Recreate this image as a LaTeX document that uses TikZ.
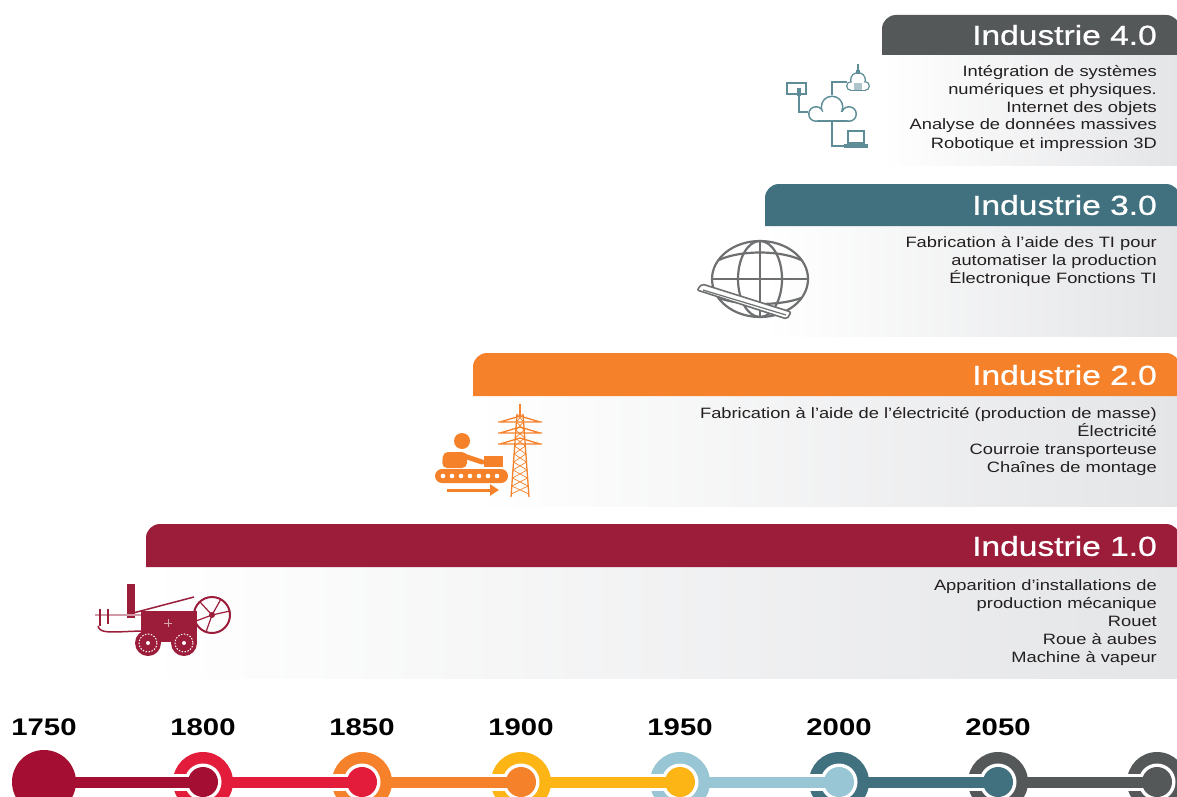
\documentclass[tikz,border=0pt]{standalone}
\usepackage{fontspec}
\setmainfont[FakeStretch=1.22]{Liberation Sans}
\newfontfamily\titrefont[FakeStretch=1.22,FakeBold=0.8]{Liberation Sans}
\usetikzlibrary{arrows.meta,calc}
\definecolor{indA}{HTML}{9B1D3A}
\definecolor{indB}{HTML}{F5822A}
\definecolor{indC}{HTML}{41707F}
\definecolor{indD}{HTML}{545859}
\definecolor{tlA}{HTML}{A50E33}
\definecolor{tlB}{HTML}{E21C3A}
\definecolor{tlC}{HTML}{F5822A}
\definecolor{tlD}{HTML}{FDB515}
\definecolor{tlE}{HTML}{98C6D4}
\definecolor{tlF}{HTML}{41707F}
\definecolor{tlG}{HTML}{545859}
\definecolor{txt}{HTML}{231F20}
\definecolor{panel}{HTML}{E4E5E7}
\definecolor{nuage}{HTML}{5E8C97}
\definecolor{globe}{HTML}{6D6F71}

\begin{document}
\begin{tikzpicture}[x=1pt,y=-1pt,
  titre/.style={anchor=east,text=white,font=\titrefont\fontsize{27.5}{30}\selectfont,inner sep=0},
  liste/.style={anchor=base east,align=right,text=txt,font=\fontsize{15}{18}\selectfont,inner sep=0},
  annee/.style={anchor=base,font=\fontsize{24}{26}\selectfont\bfseries,inner sep=0}]
\useasboundingbox (0,0) rectangle (1177,797);
\clip (0,0) rectangle (1177,797);

% bandeaux
\shade[left color=white,right color=panel] (146,567) rectangle (1177,678);
\fill[indA] (146,567) [rounded corners=14] |- (1180,524) [sharp corners] -- (1180,567) -- cycle;
\node[titre] (i1) at (1157,546) {Industrie 1.0};
\node[liste] (l1) at (1157,662) {Apparition d'installations de\\production mécanique\\Rouet\\Roue à aubes\\Machine à vapeur};

\shade[left color=white,right color=panel] (473,396) rectangle (1177,506);
\fill[indB] (473,396) [rounded corners=14] |- (1180,353) [sharp corners] -- (1180,396) -- cycle;
\node[titre] (i2) at (1157,375) {Industrie 2.0};
\node[liste] (l2) at (1157,472) {Fabrication à l'aide de l'électricité (production de masse)\\Électricité\\Courroie transporteuse\\Chaînes de montage};

\shade[left color=white,right color=panel] (765,226) rectangle (1177,336);
\fill[indC] (765,226) [rounded corners=14] |- (1180,184) [sharp corners] -- (1180,226) -- cycle;
\node[titre] (i3) at (1157,205) {Industrie 3.0};
\node[liste] (l3) at (1157,283) {Fabrication à l'aide des TI pour\\automatiser la production\\Électronique Fonctions TI};

\shade[left color=white,right color=panel] (882,55) rectangle (1177,165);
\fill[indD] (882,55) [rounded corners=14] |- (1180,15) [sharp corners] -- (1180,55) -- cycle;
\node[titre] (i4) at (1157,35) {Industrie 4.0};
\node[liste] (l4) at (1157,148) {Intégration de systèmes\\numériques et physiques.\\Internet des objets\\Analyse de données massives\\Robotique et impression 3D};

% locomotive
\begin{scope}[indA]
\fill (127,584) rectangle (135,618);
\fill (141,611) rectangle (197,642);
\draw[white!60!indA,line width=0.8] (164,623) -- (172,623) (168,619) -- (168,627);
\draw[line width=1.5] (133,613) -- (194,597);
\draw[line width=2] (212,615) circle (18);
\draw[line width=1.2] (196,621) -- (212,615) -- (230,611) (212,615) -- (200,602) (212,615) -- (206,632) (212,615) -- (221,599);
\fill (212,615) circle (3);
\draw[line width=1.2,indA!45] (95,615) -- (141,615);
\draw[line width=1.5] (100,609) -- (100,626) (108,609) -- (108,624);
\draw[line width=1.5] (98,626) .. controls (100,634) and (110,632) .. (141,631);
\foreach \x in {148,184} {
  \fill (\x,643) circle (13);
  \draw[white,line width=1,dash pattern=on 1.5pt off 1.5pt] (\x,643) circle (9);
  \fill[white] (\x,643) circle (2);
}
\end{scope}

% chaine de montage et pylone
\begin{scope}[indB]
\fill (462,441) circle (8);
\fill[rounded corners=5] (442,468) -- (443,452) -- (467,452) -- (467,468) -- cycle;
\draw[line width=5,line cap=round] (464,456) -- (482,462);
\fill (484,456) rectangle (503,467);
\fill[rounded corners=7] (435,469) rectangle (508,483);
\foreach \x in {443,452,...,500} \fill[white] (\x,476) circle (2.3);
\draw[line width=3,-{Triangle[length=9,width=11]}] (447,490) -- (499,490);
\draw[line width=1.3] (520,404) -- (520,416);
\draw[line width=1.3] (517,414) -- (511,497) (523,414) -- (529,497);
\foreach \y in {422,433,444}
  \draw[line width=1.3] (498,\y) -- (542,\y) (500,\y) -- (520,\y-6) -- (540,\y);
\foreach \y in {414,422,...,486}
  \draw[line width=0.7] ({517-(\y-414)*0.072},\y) -- ({523+(\y-406)*0.072},{\y+8})
    ({523+(\y-414)*0.072},\y) -- ({517-(\y-406)*0.072},{\y+8});
\end{scope}

% globe et tablette
\begin{scope}[globe,line width=2.2]
\draw (760,279) ellipse (48 and 38);
\draw (760,279) ellipse (22 and 38);
\draw (760,241) -- (760,317);
\draw (712,279) -- (808,279);
\draw (719,260) .. controls (740,250) and (780,250) .. (801,260);
\draw (719,298) .. controls (740,306) and (780,306) .. (801,298);
\filldraw[fill=white,line width=1.6,rounded corners=2] (697,290) -- (702,284) -- (791,312) -- (787,319) -- cycle;
\draw[line width=1.2] (703,290) -- (786,315);
\end{scope}

% nuage et objets
\begin{scope}[nuage,line width=1.6]
\fill (816,114) circle (8);
\fill (832,107) circle (11.5);
\fill (849,114) circle (8);
\fill (816,112) rectangle (849,122);
\fill[white] (816,114) circle (6.4);
\fill[white] (832,107) circle (9.9);
\fill[white] (849,114) circle (6.4);
\fill[white] (816,112) rectangle (849,120.4);
\draw (799,95) |- (808,112);
\draw (832,95.5) |- (847,82);
\draw (832,122) |- (845,146);
\draw[line width=1.3] (787,83) rectangle (806,94);
\fill (797,88) rectangle (801,96);
\fill (851,86) circle (5);
\fill (858,80) circle (8);
\fill (865,86) circle (5);
\fill (851,84) rectangle (865,91);
\fill[white] (851,86) circle (3.6);
\fill[white] (858,80) circle (6.6);
\fill[white] (865,86) circle (3.6);
\fill[white] (851,84) rectangle (865,89.6);
\fill[nuage!50] (854,83) rectangle (862,90);
\draw[line width=1.3] (858,64) -- (858,72);
\fill (856,70) rectangle (860,74);
\draw[line width=1.3] (848,131) rectangle (864,143);
\fill (844,144) rectangle (868,147.5);
\end{scope}

% frise chronologique
\coordinate (p0) at (44,782);
\fill[tlA] (p0) circle (32);
\foreach \c/\p [count=\i] in {tlB/tlA,tlC/tlB,tlD/tlC,tlE/tlD,tlF/tlE,tlG/tlF,tlG/tlG} {
  \pgfmathtruncatemacro\j{\i-1}
  \coordinate (p\i) at (44+159*\i,782);
  \fill[\c] (p\i) circle (30);
  \draw[white,line width=17] ($(p\i)-(34,0)$) -- (p\i);
  \fill[white] (p\i) circle (18.5);
  \draw[\p,line width=11] ($(p\j)+(28,0)$) -- (p\i);
  \fill[\p] (p\i) circle (15);
}
\foreach \a [count=\i from 0] in {1750,1800,1850,1900,1950,2000,2050}
  \node[annee] (a\i) at (44+159*\i,735) {\a};
\end{tikzpicture}
\end{document}
